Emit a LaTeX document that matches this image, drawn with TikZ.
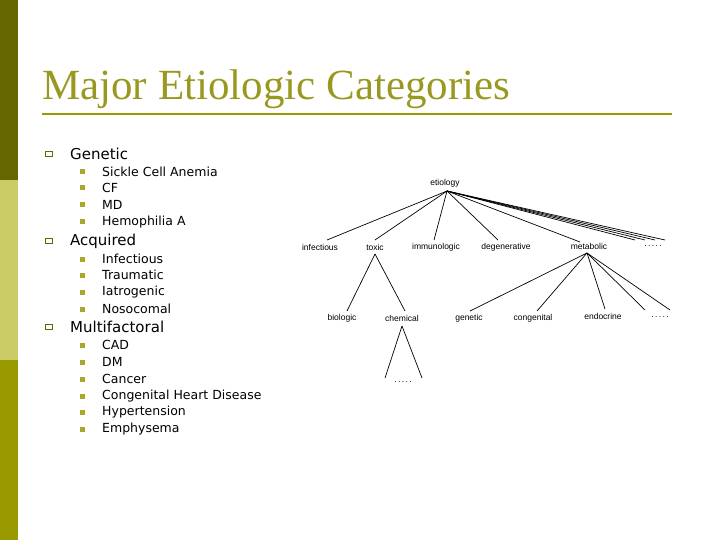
\documentclass[tikz,border=0pt]{standalone}
\usepackage{fontspec}
\setmainfont{DejaVu Sans}
\newfontfamily\titlefont{Liberation Serif}
\newfontfamily\treefont{Liberation Sans}
\definecolor{olv}{HTML}{999900}
\definecolor{dolv}{HTML}{666600}
\definecolor{lolv}{HTML}{CCCC66}
\definecolor{ttl}{HTML}{999922}
\begin{document}
\begin{tikzpicture}[x=1pt,y=-1pt,
  lone/.style={anchor=west,font=\fontsize{15}{15}\selectfont,inner sep=0},
  ltwo/.style={anchor=west,font=\fontsize{12.5}{12.5}\selectfont,inner sep=0},
  tn/.style={font=\treefont\fontsize{8.5}{8.5}\selectfont,inner sep=1pt},
  br/.style={line width=0.7pt}]
\useasboundingbox (0,0) rectangle (720,540);
\fill[white] (0,0) rectangle (720,540);
\fill[dolv] (0,0) rectangle (18,180);
\fill[lolv] (0,180) rectangle (18,360);
\fill[olv] (0,360) rectangle (18,540);
\node[anchor=base west,inner sep=0,text=ttl,font=\titlefont\fontsize{43}{43}\selectfont] (title) at (42,100) {Major Etiologic Categories};
\draw[olv,line width=2.5pt] (42,114) -- (672,114);
% list
\foreach \t/\y in {Genetic/154,Acquired/241,Multifactoral/327}{
  \node[draw=dolv,line width=1pt,minimum width=7pt,minimum height=5.5pt,inner sep=0] at (48.5,\y) {};
  \node[lone] at (70,\y) {\t};}
\foreach \t/\y in {Sickle Cell Anemia/172,CF/188,MD/205,Hemophilia A/222,Infectious/259,Traumatic/275,Iatrogenic/292,Nosocomal/309,CAD/345,DM/362,Cancer/379,Congenital Heart Disease/396,Hypertension/412,Emphysema/429}{
  \fill[olv!85] (80,\y-2.5) rectangle (85,\y+2.5);
  \node[ltwo] at (102,\y) {\t};}
% tree
\node[tn] (et) at (445,183) {etiology};
\coordinate (etb) at (447,191);
\node[tn] (inf) at (320,247) {infectious};
\node[tn] (tox) at (375,247) {toxic};
\node[tn] (imm) at (436,247) {immunologic};
\node[tn] (deg) at (506,247) {degenerative};
\node[tn] (met) at (589,246) {metabolic};
\node[tn] (d1) at (653,246) {.\,.\,.\,.\,.};
\foreach \a/\b in {327/240,375/240,434/240,498/240,580/242,635/240,645/240,655/240,665/240}
  \draw[br] (etb) -- (\a,\b);
\coordinate (toxb) at (375,254);
\node[tn] (bio) at (342,318) {biologic};
\node[tn] (che) at (402,318) {chemical};
\draw[br] (toxb) -- (347,311); \draw[br] (toxb) -- (405,311);
\coordinate (metb) at (587,253);
\node[tn] (gen) at (469,318) {genetic};
\node[tn] (con) at (533,318) {congenital};
\node[tn] (end) at (603,316) {endocrine};
\node[tn] (d2) at (660,317) {.\,.\,.\,.\,.};
\foreach \a/\b in {470/311,537/311,605/309,645/310,670/310}
  \draw[br] (metb) -- (\a,\b);
\coordinate (cheb) at (402,326);
\node[tn] (d3) at (403,382) {.\,.\,.\,.\,.};
\draw[br] (cheb) -- (385,378); \draw[br] (cheb) -- (422,378);
\end{tikzpicture}
\end{document}
